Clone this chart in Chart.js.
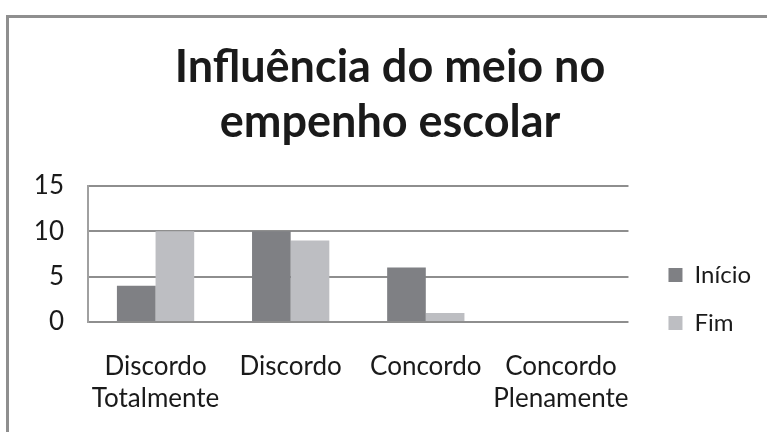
<!DOCTYPE html>
<html>
<head>
<meta charset="utf-8">
<script src="https://cdn.jsdelivr.net/npm/chart.js@4"></script>
<style>
  html, body { margin: 0; padding: 0; background: #fff; overflow: hidden; }
  #wrap { position: relative; width: 767px; height: 432px; }
  #frame { position: absolute; left: 6px; top: 15px; width: 800px; height: 500px; border: 3px solid #8f8f8f; box-sizing: border-box; }
  #c { position: absolute; left: 0; top: 0; }
</style>
</head>
<body>
<div id="wrap">
  <div id="frame"></div>
  <canvas id="c" width="767" height="432"></canvas>
</div>
<script>
const titleLines = ['Influência do meio no', 'empenho escolar'];
const categories = [['Discordo', 'Totalmente'], 'Discordo', 'Concordo', ['Concordo', 'Plenamente']];
const seriesNames = ['Início', 'Fim'];
const inicioValues = [4, 10, 6, 0];
const fimValues = [10, 9, 1, 0];
const yTicks = [0, 5, 10, 15];

const FONT = 'Lato';
const TEXT = '#1a1a1a';

const legendShift = {
  id: 'legendShift',
  afterLayout(chart) {
    const lg = chart.legend;
    if (!lg) return;
    lg.left += 16; lg.right += 16;
    lg.top = 166; lg.bottom = 432;
  }
};

new Chart(document.getElementById('c'), {
  type: 'bar',
  data: {
    labels: categories,
    datasets: [
      { label: seriesNames[0], data: inicioValues, backgroundColor: '#7f8084', borderWidth: 0 },
      { label: seriesNames[1], data: fimValues, backgroundColor: '#bdbec2', borderWidth: 0 }
    ]
  },
  options: {
    responsive: false,
    animation: false,
    layout: { padding: { left: 35, right: 22, top: 0, bottom: 0 } },
    datasets: { bar: { categoryPercentage: 0.572, barPercentage: 1.0 } },
    plugins: {
      title: {
        display: true,
        text: titleLines,
        color: TEXT,
        font: { family: FONT, size: 45, weight: 'bold', lineHeight: 1.222 },
        padding: { top: 40, bottom: 36 }
      },
      legend: {
        position: 'right',
        maxWidth: 118,
        labels: {
          color: TEXT,
          font: { family: FONT, size: 24 },
          boxWidth: 14,
          boxHeight: 14,
          padding: 24
        }
      },
      tooltip: { enabled: false }
    },
    scales: {
      x: {
        grid: { display: false, drawTicks: false },
        border: { display: false },
        ticks: { color: TEXT, font: { family: FONT, size: 26, lineHeight: 1.21 }, padding: 29, maxRotation: 0, autoSkip: false },
        afterFit(scale) { scale.height = 110; }
      },
      y: {
        min: 0,
        max: 15,
        afterBuildTicks(scale) { scale.ticks = yTicks.map(v => ({ value: v })); },
        grid: { color: '#8e8e8e', lineWidth: 2, drawTicks: false },
        border: { display: true, color: '#a0a0a0', width: 2 },
        ticks: { color: TEXT, font: { family: FONT, size: 26 }, padding: 24 },
        afterFit(scale) { scale.width = 53; }
      }
    }
  },
  plugins: [legendShift]
});
</script>
</body>
</html>
